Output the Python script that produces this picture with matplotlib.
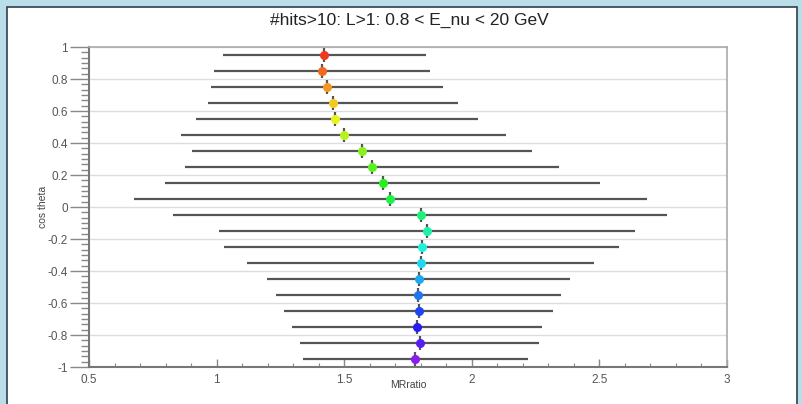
import matplotlib
matplotlib.use("Agg")
import matplotlib.pyplot as plt
import matplotlib.colors as mcolors
from matplotlib.patches import Rectangle
from matplotlib.ticker import MultipleLocator
import numpy as np

plt.rcParams['font.family'] = ['Liberation Sans', 'DejaVu Sans']

title = "#hits>10: L>1: 0.8 < E_nu < 20 GeV"
xlabel = "MRratio"
ylabel = "cos theta"

cos_theta = [0.95, 0.85, 0.75, 0.65, 0.55, 0.45, 0.35, 0.25, 0.15, 0.05,
             -0.05, -0.15, -0.25, -0.35, -0.45, -0.55, -0.65, -0.75, -0.85, -0.95]
mr_center = [1.421, 1.413, 1.433, 1.456, 1.464, 1.499, 1.570, 1.609, 1.652, 1.679,
             1.801, 1.824, 1.805, 1.801, 1.793, 1.789, 1.793, 1.785, 1.797, 1.777]
mr_low = [1.025, 0.990, 0.978, 0.966, 0.919, 0.861, 0.904, 0.876, 0.798, 0.676,
          0.829, 1.009, 1.029, 1.119, 1.197, 1.233, 1.264, 1.295, 1.327, 1.339]
mr_high = [1.821, 1.836, 1.887, 1.946, 2.024, 2.134, 2.236, 2.342, 2.502, 2.687,
           2.765, 2.640, 2.577, 2.479, 2.385, 2.350, 2.318, 2.275, 2.263, 2.220]
cos_err = 0.045

fig = plt.figure(figsize=(8.02, 4.04), dpi=100)
fig.patch.set_facecolor('#b9dde9')
panel = Rectangle((7/802, -0.01), (797-7)/802, 1 - 7/404 + 0.01, transform=fig.transFigure,
                  facecolor='white', edgecolor='#2f3f4a', linewidth=1.2, zorder=-5)
fig.patches.append(panel)

ax = fig.add_axes([89/802, 1-367/404, (727-89)/802, (367-47)/404])
ax.set_zorder(2)
ax.set_xlim(0.5, 3.0)
ax.set_ylim(-1, 1)

n = len(cos_theta)
hues = np.linspace(0.02, 0.75, n)
colors = [mcolors.hsv_to_rgb((h, 0.88, 0.95)) for h in hues]

xc = np.array(mr_center)
xerr = [xc - np.array(mr_low), np.array(mr_high) - xc]
ax.errorbar(xc, cos_theta, xerr=xerr, yerr=cos_err, fmt='none',
            ecolor='#555555', elinewidth=1.6, capsize=0, zorder=3)
for x, y, c in zip(mr_center, cos_theta, colors):
    ax.plot(x, y, 'o', color=c, markersize=6.5, markeredgewidth=0, zorder=4)

ax.yaxis.set_major_locator(MultipleLocator(0.2))
ax.yaxis.set_minor_locator(MultipleLocator(0.2/6))
ax.xaxis.set_major_locator(MultipleLocator(0.5))
ax.xaxis.set_minor_locator(MultipleLocator(0.1))
ax.grid(axis='y', which='major', color='#dddddd', linewidth=1.0, zorder=0)
ax.set_axisbelow(True)

ax.tick_params(axis='y', which='major', direction='out', length=14, width=1.0,
               color='#888888', labelsize=8.5, labelcolor='#555555', pad=1)
ax.tick_params(axis='y', which='minor', direction='out', length=6, width=1.0, color='#888888')
ax.tick_params(axis='x', which='major', direction='in', length=6, width=1.0,
               color='#888888', labelsize=8.5, labelcolor='#555555', pad=5)
ax.tick_params(axis='x', which='minor', direction='in', length=3, width=0.8, color='#888888')

ax.set_yticks([-1, -0.8, -0.6, -0.4, -0.2, 0, 0.2, 0.4, 0.6, 0.8, 1])
ax.set_yticklabels(['-1', '-0.8', '-0.6', '-0.4', '-0.2', '0', '0.2', '0.4', '0.6', '0.8', '1'])
ax.set_xticks([0.5, 1, 1.5, 2, 2.5, 3])
ax.set_xticklabels(['0.5', '1', '1.5', '2', '2.5', '3'])

for side in ['left', 'bottom']:
    ax.spines[side].set_color('#777777')
    ax.spines[side].set_linewidth(1.5)
for side in ['top', 'right']:
    ax.spines[side].set_color('#aaaaaa')
    ax.spines[side].set_linewidth(1.2)

ax.set_xlabel(xlabel, fontsize=7.5, color='#444444', labelpad=-4)
ax.set_ylabel(ylabel, fontsize=7.5, color='#444444', labelpad=0)
fig.text(409/802, 1-20/404, title, ha='center', va='center', fontsize=12.5, color='#222222')

fig.savefig('out.png', dpi=100, facecolor=fig.get_facecolor())
